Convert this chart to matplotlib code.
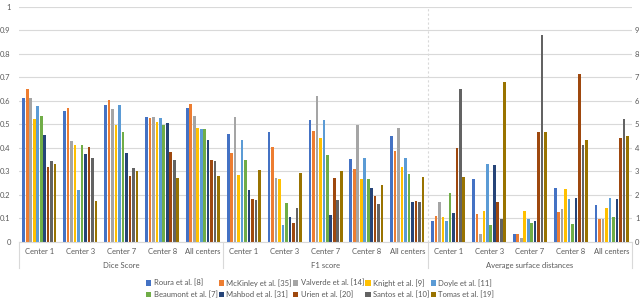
import matplotlib.pyplot as plt
import numpy as np

plt.rcParams['font.family'] = ['Lato', 'DejaVu Sans']

centers = ['Center 1', 'Center 3', 'Center 7', 'Center 8', 'All centers']
metrics = ['Dice Score', 'F1 score', 'Average surface distances']
methods = ['Roura et al. [8]', 'McKinley et al. [35]', 'Valverde et al. [14]', 'Knight et al. [9]',
           'Doyle et al. [11]', 'Beaumont et al. [7]', 'Mahbod et al. [31]', 'Urien et al. [20]',
           'Santos et al. [10]', 'Tomas et al. [19]']
colors = ['#4472C4', '#ED7D31', '#A5A5A5', '#FFC000', '#5B9BD5',
          '#70AD47', '#264478', '#9E480E', '#636363', '#997300']

# rows: centers, columns: methods
dice = [
    [0.611, 0.650, 0.611, 0.524, 0.577, 0.538, 0.455, 0.317, 0.344, 0.331],
    [0.558, 0.570, 0.429, 0.412, 0.220, 0.412, 0.375, 0.406, 0.357, 0.176],
    [0.581, 0.604, 0.567, 0.499, 0.581, 0.466, 0.379, 0.281, 0.314, 0.300],
    [0.533, 0.527, 0.533, 0.510, 0.527, 0.497, 0.506, 0.382, 0.348, 0.274],
    [0.568, 0.587, 0.538, 0.484, 0.480, 0.480, 0.432, 0.347, 0.344, 0.280],
]
f1 = [
    [0.459, 0.379, 0.533, 0.284, 0.432, 0.348, 0.220, 0.182, 0.178, 0.308],
    [0.467, 0.405, 0.274, 0.268, 0.074, 0.166, 0.108, 0.081, 0.145, 0.295],
    [0.521, 0.472, 0.621, 0.443, 0.521, 0.369, 0.116, 0.273, 0.178, 0.300],
    [0.355, 0.310, 0.496, 0.270, 0.359, 0.267, 0.229, 0.196, 0.163, 0.241],
    [0.453, 0.388, 0.487, 0.318, 0.359, 0.288, 0.170, 0.176, 0.169, 0.276],
]
asd = [
    [0.90, 1.10, 1.72, 1.07, 0.88, 2.09, 1.25, 3.98, 6.50, 2.76],
    [2.66, 1.21, 0.36, 1.31, 3.31, 0.73, 3.29, 1.68, 0.98, 6.80],
    [0.36, 0.33, 0.17, 1.30, 0.97, 0.81, 0.88, 4.67, 8.80, 4.67],
    [2.28, 1.29, 1.42, 2.26, 1.83, 0.75, 1.89, 7.13, 4.11, 4.35],
    [1.58, 0.98, 0.98, 1.45, 1.88, 1.05, 1.81, 4.44, 5.22, 4.50],
]

txt = '#595959'
grid = '#D9D9D9'

fig = plt.figure(figsize=(6.4, 2.98), dpi=100)
ax = fig.add_axes([0.0297, 0.188, 0.958, 0.7886])
ax2 = ax.twinx()

slot, bw = 0.085, 0.065
for m, data in enumerate([dice, f1, asd]):
    target = ax2 if m == 2 else ax
    for c in range(len(centers)):
        g = m * 5 + c
        for i in range(len(methods)):
            target.bar(g + 0.5 + (i - 4.5) * slot, data[c][i], width=bw,
                       color=colors[i], label=methods[i] if g == 0 else None)

ax.set_xlim(0, 15)
ax.set_ylim(0, 1)
ax2.set_ylim(0, 10)
ax.set_yticks(np.arange(0, 1.01, 0.1))
ax.set_yticklabels(['0'] + ['%.1f' % v for v in np.arange(0.1, 0.95, 0.1)] + ['1'])
ax2.set_yticks(range(10))
ax.yaxis.grid(True, color=grid, linewidth=0.8)
ax.set_axisbelow(True)
ax2.set_zorder(ax.get_zorder() + 1)
ax2.patch.set_visible(False)

for a in (ax, ax2):
    for s in a.spines.values():
        s.set_visible(False)
    a.tick_params(axis='y', length=0, labelsize=5.5, labelcolor=txt)
ax.tick_params(axis='y', pad=6)
ax2.tick_params(axis='y', pad=2)
ax.spines['bottom'].set_visible(True)
ax.spines['bottom'].set_color(grid)

ax.set_xticks(np.arange(15) + 0.5)
ax.set_xticklabels(centers * 3)
ax.tick_params(axis='x', length=0, labelsize=5.5, labelcolor=txt, pad=4)

ax.axvline(10, color=grid, linestyle=(0, (2, 2)), linewidth=0.8)

trans = ax.get_xaxis_transform()
for k in range(4):
    ax.plot([5 * k, 5 * k], [0, -0.11], color=grid, linewidth=0.8,
            transform=trans, clip_on=False)
for k, name in enumerate(metrics):
    ax.text(5 * k + 2.5, -0.1, name, transform=trans, ha='center', va='center',
            fontsize=5.5, color=txt)

# legend is filled column by column; reorder so it reads row by row
handles, labels = ax.get_legend_handles_labels()
h2, l2 = ax2.get_legend_handles_labels()
handles, labels = handles + h2, labels + l2
order = [0, 5, 1, 6, 2, 7, 3, 8, 4, 9]
fig.legend([handles[i] for i in order], [labels[i] for i in order], ncol=5,
           loc='lower center', bbox_to_anchor=(0.5, -0.015), frameon=False, fontsize=5.5,
           handlelength=0.7, handleheight=0.7, handletextpad=0.3,
           columnspacing=0.15, labelcolor=txt, borderaxespad=0.2, labelspacing=0.5)

fig.savefig('out.png', dpi=100)
